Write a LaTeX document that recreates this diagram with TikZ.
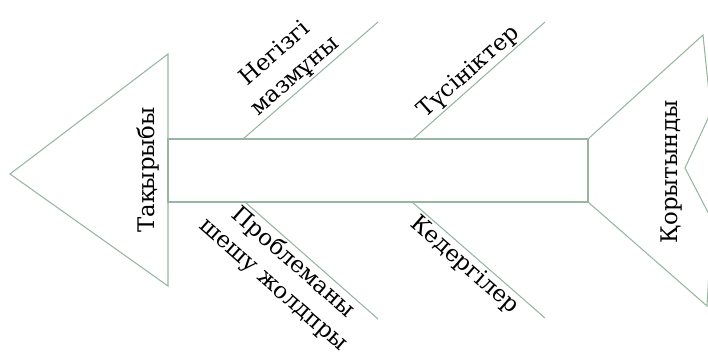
\documentclass[tikz,border=0pt]{standalone}
\usepackage{fontspec}
\setmainfont{DejaVu Serif}
\definecolor{fishline}{RGB}{150,182,162}

\begin{document}
\begin{tikzpicture}[x=0.02cm,y=-0.02cm,line width=0.6pt,
  bone/.style={draw=fishline},
  lbl/.style={font=\fontsize{13}{17}\selectfont,inner sep=1pt,align=center}]
\useasboundingbox (0,0) rectangle (708,358);
\clip (0,0) rectangle (708,358);
% head
\coordinate (h_tip) at (10,174);
\coordinate (h_top) at (168,54);
\coordinate (h_bot) at (168,286);
% spine
\coordinate (s_nw) at (168,139);
\coordinate (s_ne) at (588,139);
\coordinate (s_se) at (588,202);
% tail
\coordinate (t_top) at (703,35);
\coordinate (t_r1) at (711,112);
\coordinate (t_notch) at (685,168);
\coordinate (t_r2) at (712,220);
\coordinate (t_bot) at (707,306);
% bones
\coordinate (b1_s) at (243,139);
\coordinate (b1_e) at (378,22);
\coordinate (b2_s) at (413,139);
\coordinate (b2_e) at (545,22);
\coordinate (b3_s) at (245,202);
\coordinate (b3_e) at (378,319);
\coordinate (b4_s) at (412,202);
\coordinate (b4_e) at (545,318);

\draw[bone] (h_tip) -- (h_top) -- (h_bot) -- cycle;
\draw[bone] (s_nw) rectangle (s_se);
\draw[bone] (s_ne) -- (t_top) -- (t_r1) -- (t_notch) -- (t_r2) -- (t_bot) -- (s_se);

\node[lbl,rotate=90] (topic) at (148,170) {Тақырыбы};
\node[lbl,rotate=90] (result) at (672,172) {Қорытынды};

\path[bone]
	(b1_s) edge node[lbl,sloped,above,pos=0.45] {Негізгі\\мазмұны} (b1_e)
	(b2_s) edge node[lbl,sloped,above,pos=0.49] {Түсініктер} (b2_e)
	(b3_s) edge node[lbl,sloped,below,pos=0.43] {Проблеманы\\шешу жолдпры} (b3_e)
	(b4_s) edge node[lbl,sloped,below,pos=0.46] {Кедергілер} (b4_e);
\end{tikzpicture}
\end{document}
